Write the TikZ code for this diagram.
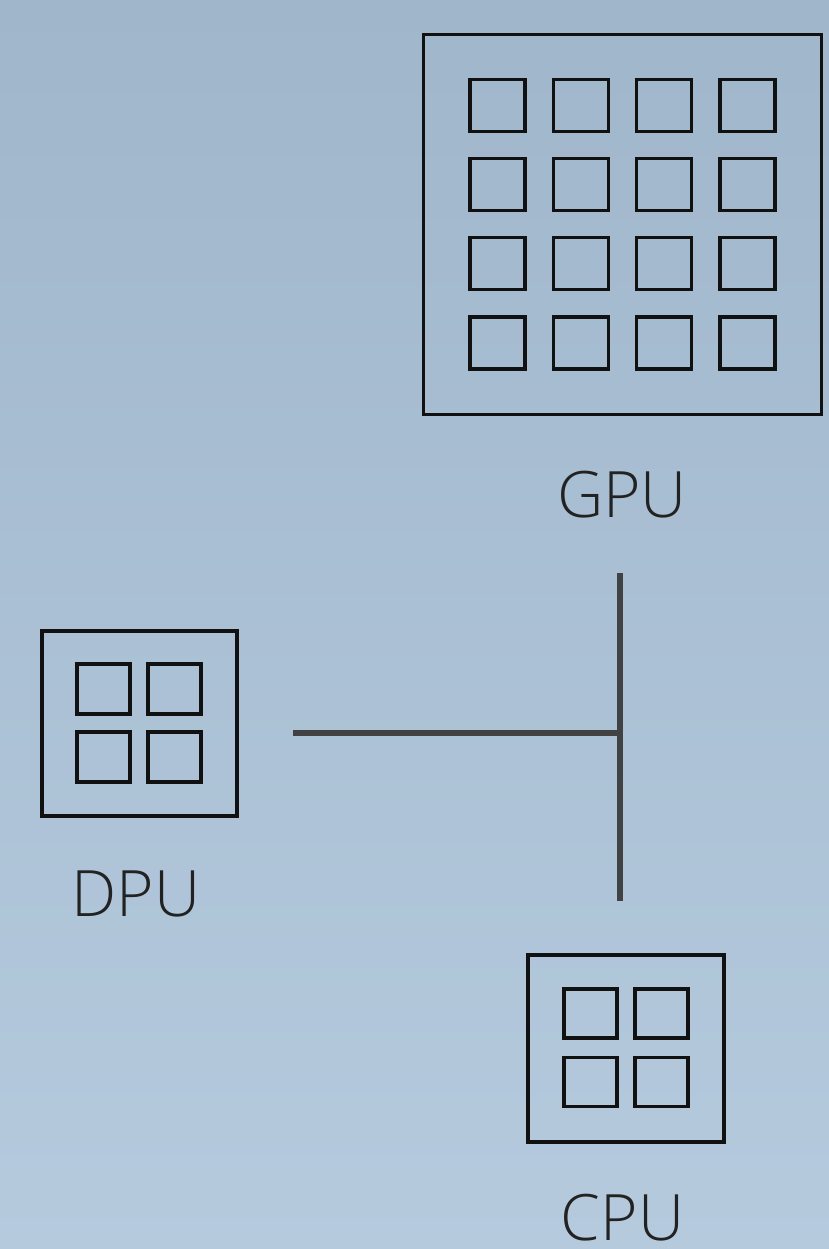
\documentclass[tikz,border=0pt]{standalone}
\usepackage{fontspec}
\setmainfont{Open Sans}[UprightFont={* Light}]
\definecolor{bgtop}{HTML}{A0B6CB}
\definecolor{bgbot}{HTML}{B5CADD}
\definecolor{linkc}{HTML}{404244}
\definecolor{inkc}{HTML}{111111}
\definecolor{txtc}{HTML}{222222}
\tikzset{
  chipbox/.style={draw=inkc, line width=3.4pt, rectangle, inner sep=0pt},
  core/.style={draw=inkc, line width=3.4pt, rectangle, inner sep=0pt},
  lbl/.style={text=txtc, font=\fontsize{64}{64}\selectfont, anchor=base, inner sep=0pt},
  link/.style={draw=linkc, line width=6.5pt}
}
\begin{document}
\begin{tikzpicture}[x=1pt,y=-1pt]
\shade[top color=bgtop, bottom color=bgbot] (0,0) rectangle (829,1249);
\useasboundingbox (0,0) rectangle (829,1249);
% GPU
\node[chipbox, minimum width=398pt, minimum height=380pt] (gpu) at (622.5,224.5) {};
\foreach \i/\x in {1/497.5,2/581,3/664,4/747.5}{
  \foreach \j/\y in {1/105.5,2/184.5,3/263.5,4/343}{
    \node[core, minimum width=55pt, minimum height=52pt] (g\i\j) at (\x,\y) {};
  }
}
\node[lbl] (gpulbl) at (622,517) {GPU};
% DPU
\node[chipbox, minimum width=195pt, minimum height=185pt] (dpu) at (139.5,723.5) {};
\foreach \i/\x in {1/103.5,2/174.5}{
  \foreach \j/\y in {1/689,2/757}{
    \node[core, minimum width=53pt, minimum height=50pt] (d\i\j) at (\x,\y) {};
  }
}
\node[lbl] (dpulbl) at (136,916) {DPU};
% CPU
\node[chipbox, minimum width=196pt, minimum height=187pt] (cpu) at (626,1048.5) {};
\foreach \i/\x in {1/590.5,2/661.5}{
  \foreach \j/\y in {1/1013.5,2/1082}{
    \node[core, minimum width=53pt, minimum height=49pt] (c\i\j) at (\x,\y) {};
  }
}
\node[lbl] (cpulbl) at (622.5,1240) {CPU};
% links
\coordinate (busTop) at (620,573);
\coordinate (busBot) at (620,901);
\coordinate (dpuEnd) at (293,733);
\coordinate (junction) at (620,733);
\draw[link] (busTop) -- (busBot);
\draw[link] (dpuEnd) -- (junction);
\end{tikzpicture}
\end{document}
